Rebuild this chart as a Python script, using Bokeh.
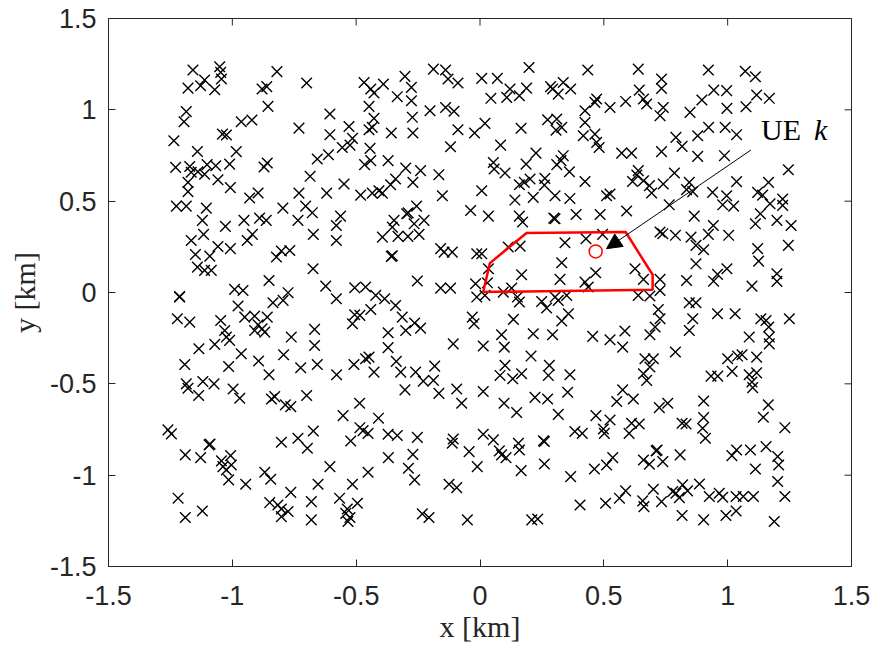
from bokeh.plotting import figure
from bokeh.models import Range1d, FixedTicker, Arrow, NormalHead
from bokeh.core.properties import value
from bokeh.embed import file_html
from bokeh.resources import INLINE

# ---- data ----
x_vals = [
 -1.159,-1.051,-1.047,-1.044,-1.112,-1.179,-1.128,-1.071,-0.820,-0.880,-0.861,-0.856,-1.186,-1.195,-0.964,-0.921,-1.040,-1.024,-1.236,-1.141,-0.984,-1.229,-1.172,-1.166,-1.139,-1.102,-1.112,-1.067,-1.011,-0.872,-0.859,-1.179,-1.058,-1.008,-1.179,-0.930,-0.896,
 -0.700,-0.468,-0.441,-0.428,-0.390,-0.303,-0.277,-0.334,-0.277,-0.188,-0.139,-0.129,-0.089,-0.606,-0.448,-0.428,-0.273,-0.202,-0.139,-0.105,-0.731,-0.606,-0.529,-0.448,-0.435,-0.358,-0.271,-0.089,-0.022,-0.515,-0.556,-0.525,-0.444,-0.119,-0.657,-0.612,-0.466,-0.441,-0.371,-0.300,-0.240,-0.166,-0.686,-0.341,-0.361,-0.271,-0.549,-0.731,-0.619,-0.482,-0.435,-0.408,-0.394,-0.152,
 0.007,0.070,0.198,0.435,0.639,0.733,0.733,0.121,0.188,0.285,0.293,0.336,0.366,0.316,0.044,0.108,0.159,0.471,0.464,0.525,0.588,0.643,0.660,0.673,0.727,0.740,0.424,0.020,0.166,0.273,0.310,0.307,0.330,0.424,0.417,0.464,0.471,0.481,0.083,0.226,0.572,0.612,0.733,0.054,0.057,0.101,0.186,0.310,0.336,0.327,0.361,0.639,0.633,0.616,0.660,0.684,0.693,0.740,0.424,0.159,0.202,0.179,0.262,0.260,0.303,0.363,0.215,0.141,0.007,0.511,0.525,
 0.922,1.071,1.112,0.944,0.996,0.896,1.117,1.168,1.074,0.848,0.997,0.923,0.990,1.036,0.879,0.791,0.816,0.879,0.987,1.245,0.785,1.036,1.165,0.845,0.834,0.859,0.939,0.996,1.121,1.141,1.222,
 -1.226,-1.186,-1.105,-1.121,-1.028,-0.953,-0.890,-0.863,-0.796,-1.116,-1.166,-0.940,-0.919,-1.058,-1.008,-1.149,-1.091,-0.822,-0.802,-0.768,-1.141,-1.112,-1.085,-0.852,-1.213,-1.213,-0.991,-0.957,-0.836,-0.795,-0.775,-0.977,-1.222,-1.172,-1.047,-0.950,-0.910,-0.859,-0.896,-0.880,-0.910,-0.869,-1.031,-1.024,-1.011,-1.071,-1.135,-0.964,-0.894,-0.793,-0.762,-1.192,-1.015,-0.852,-1.186,-1.119,-1.074,
 -0.704,-0.677,-0.735,-0.563,-0.580,-0.673,-0.580,-0.296,-0.290,-0.256,-0.347,-0.354,-0.266,-0.226,-0.394,-0.331,-0.291,-0.246,-0.038,-0.159,-0.145,-0.112,-0.358,-0.354,-0.013,-0.674,-0.623,-0.580,-0.506,-0.462,-0.421,-0.385,-0.253,-0.159,-0.119,-0.018,-0.013,-0.441,-0.341,-0.506,-0.485,-0.515,-0.314,-0.264,-0.240,-0.300,-0.371,-0.031,-0.024,-0.668,-0.668,-0.371,-0.108,-0.724,-0.657,-0.579,-0.509,-0.462,-0.448,-0.428,-0.338,-0.320,-0.260,-0.183,-0.188,-0.229,
 0.034,0.159,0.172,0.303,0.298,0.388,0.485,0.592,0.727,0.738,0.343,0.428,0.495,0.114,0.162,0.007,0.330,0.626,0.168,0.323,0.467,0.424,0.437,0.660,0.727,0.034,0.030,0.128,0.094,0.020,0.151,0.159,0.249,0.269,0.303,0.316,0.350,0.639,0.686,0.727,0.720,0.357,0.330,0.135,0.087,0.215,0.293,0.455,0.525,0.585,0.576,0.013,0.098,0.686,0.707,0.727,0.206,0.101,0.081,0.132,0.168,0.280,0.276,0.363,0.666,0.700,0.660,0.686,0.673,
 0.764,0.980,1.024,1.171,1.222,0.865,1.132,1.112,1.199,1.256,0.942,0.922,1.004,0.789,0.852,0.872,0.903,1.121,1.125,1.245,0.872,0.997,0.959,0.943,0.834,1.098,1.199,1.199,0.845,0.872,0.859,0.845,0.959,1.030,1.134,1.155,1.166,1.249,1.168,1.168,1.087,0.789,1.000,1.040,1.058,1.117,1.018,0.933,0.960,1.087,1.117,1.098,
 -1.179,-1.136,-0.997,-0.970,-0.842,-0.829,-0.786,-0.764,-1.260,-1.246,-1.094,-1.090,-1.190,-1.128,-1.044,-1.007,-1.038,-1.024,-1.004,-1.015,-0.946,-0.802,-0.869,-0.845,-0.764,-1.219,-1.121,-1.190,-0.849,-0.816,-0.802,-0.775,-0.802,
 -0.700,-0.486,-0.553,-0.410,-0.485,-0.472,-0.452,-0.522,-0.371,-0.334,-0.253,-0.303,-0.166,-0.094,-0.074,-0.735,-0.697,-0.673,-0.108,-0.112,-0.044,-0.271,-0.370,-0.606,-0.452,-0.289,-0.264,-0.011,-0.654,-0.515,-0.125,-0.094,-0.681,-0.567,-0.495,-0.536,-0.542,-0.525,-0.533,-0.681,-0.233,-0.206,-0.051,
 0.013,0.097,0.148,0.222,0.273,0.354,0.316,0.576,0.552,0.619,0.724,0.468,0.525,0.612,0.643,0.602,0.498,0.502,0.383,0.413,0.013,0.054,0.078,0.087,0.105,0.155,0.159,0.260,0.256,0.260,0.166,0.366,0.462,0.511,0.536,0.660,0.684,0.711,0.715,0.738,0.404,0.507,0.563,0.588,0.657,0.662,0.700,0.733,0.209,0.233,
 1.101,0.758,0.903,1.164,1.144,1.231,0.816,0.832,0.903,0.899,0.910,0.808,1.017,1.036,1.092,1.155,1.202,1.206,1.112,1.202,0.818,0.886,0.791,0.838,0.805,0.926,0.966,0.980,1.034,1.063,1.104,1.231,0.816,0.903,0.993,1.034,1.188,0.778,
]
y_vals = [
 1.218,1.236,1.205,1.169,1.163,1.119,1.132,1.110,1.209,1.114,1.127,1.019,0.990,0.935,0.935,0.944,0.867,0.862,0.831,0.772,0.771,0.685,0.690,0.658,0.661,0.700,0.647,0.694,0.703,0.687,0.709,0.603,0.617,0.574,0.552,0.517,0.545,
 1.147,1.150,1.114,1.092,1.141,1.183,1.123,1.072,1.050,1.223,1.218,1.169,1.147,0.977,1.019,0.953,0.959,0.995,1.013,0.992,0.900,0.864,0.909,0.891,0.904,0.873,0.873,0.891,0.873,0.844,0.794,0.807,0.789,0.798,0.731,0.754,0.700,0.722,0.722,0.681,0.667,0.645,0.636,0.621,0.590,0.603,0.594,0.544,0.544,0.533,0.544,0.557,0.544,0.530,
 1.172,1.172,1.232,1.218,1.223,1.169,1.117,1.114,1.119,1.127,1.114,1.150,1.114,1.086,1.063,1.068,1.077,1.059,1.041,1.013,1.046,1.108,1.059,1.032,0.968,1.013,0.995,0.926,0.899,0.946,0.950,0.889,0.904,0.931,0.858,0.867,0.822,0.794,0.807,0.763,0.763,0.763,0.771,0.712,0.676,0.654,0.703,0.700,0.749,0.722,0.661,0.667,0.643,0.608,0.612,0.585,0.545,0.594,0.608,0.590,0.621,0.603,0.625,0.588,0.530,0.515,0.521,0.506,0.557,0.530,0.539,
 1.218,1.211,1.181,1.108,1.105,1.054,1.081,1.063,1.017,0.986,1.008,0.904,0.904,0.864,0.858,0.849,0.800,0.745,0.749,0.672,0.654,0.607,0.603,0.603,0.563,0.552,0.548,0.530,0.548,0.533,0.512,
 0.473,0.473,0.462,0.395,0.362,0.395,0.407,0.395,0.462,0.318,0.285,0.285,0.318,0.252,0.240,0.208,0.199,0.194,0.227,0.230,0.139,0.121,0.121,0.066,-0.025,-0.022,0.017,0.011,-0.056,-0.043,-0.001,-0.074,-0.144,-0.162,-0.153,-0.135,-0.129,-0.135,-0.177,-0.199,-0.208,-0.217,-0.208,-0.244,-0.262,-0.284,-0.308,-0.335,-0.375,-0.341,-0.244,-0.394,-0.405,-0.450,-0.500,-0.487,-0.500,
 0.473,0.437,0.395,0.418,0.367,0.318,0.285,0.431,0.436,0.473,0.395,0.358,0.376,0.395,0.303,0.307,0.307,0.318,0.449,0.240,0.221,0.221,0.198,0.201,0.212,0.130,0.035,-0.034,0.026,0.030,-0.016,-0.034,0.063,0.024,0.024,0.048,-0.025,-0.093,-0.071,-0.122,-0.125,-0.171,-0.135,-0.167,-0.195,-0.208,-0.220,-0.135,-0.171,-0.202,-0.290,-0.302,-0.281,-0.412,-0.394,-0.450,-0.394,-0.363,-0.354,-0.436,-0.377,-0.436,-0.436,-0.403,-0.481,-0.485,
 0.418,0.418,0.386,0.404,0.407,0.427,0.427,0.446,0.331,0.322,0.272,0.294,0.318,0.249,0.254,0.212,0.163,0.130,0.097,0.072,0.108,0.057,0.030,0.072,0.072,0.130,0.053,0.024,0.002,-0.016,-0.025,-0.052,-0.049,-0.085,-0.025,-0.043,-0.016,-0.016,-0.019,0.011,-0.093,-0.116,-0.156,-0.147,-0.231,-0.226,-0.231,-0.240,-0.259,-0.211,-0.299,-0.293,-0.299,-0.231,-0.189,-0.144,-0.348,-0.399,-0.454,-0.472,-0.445,-0.399,-0.454,-0.450,-0.363,-0.363,-0.445,-0.408,-0.481,
 0.480,0.480,0.473,0.486,0.477,0.418,0.431,0.376,0.395,0.367,0.367,0.318,0.313,0.313,0.303,0.258,0.234,0.240,0.172,0.258,0.157,0.130,0.099,0.062,0.066,0.035,0.103,0.061,-0.056,-0.056,-0.144,-0.208,-0.116,-0.116,-0.144,-0.153,-0.189,-0.144,-0.244,-0.281,-0.244,-0.326,-0.363,-0.348,-0.341,-0.354,-0.432,-0.458,-0.458,-0.450,-0.440,-0.490,
 -0.524,-0.564,-0.528,-0.579,-0.583,-0.570,-0.615,-0.625,-0.752,-0.774,-0.834,-0.830,-0.889,-0.904,-0.922,-0.893,-0.953,-0.971,-0.944,-1.026,-1.050,-0.820,-0.984,-1.022,-1.094,-1.126,-1.196,-1.232,-1.150,-1.163,-1.185,-1.199,-1.227,
 -0.564,-0.606,-0.674,-0.688,-0.740,-0.756,-0.771,-0.813,-0.776,-0.783,-0.793,-0.533,-0.552,-0.528,-0.606,-0.798,-0.853,-0.758,-0.802,-0.825,-0.871,-0.886,-0.904,-0.953,-0.984,-0.962,-1.026,-0.953,-1.050,-1.050,-1.050,-1.068,-1.145,-1.126,-1.154,-1.185,-1.209,-1.232,-1.254,-1.245,-1.212,-1.232,-1.245,
 -0.542,-0.606,-0.657,-0.574,-0.583,-0.546,-0.667,-0.533,-0.597,-0.583,-0.630,-0.674,-0.698,-0.716,-0.720,-0.771,-0.747,-0.771,-0.761,-0.771,-0.776,-0.807,-0.867,-0.889,-0.904,-0.825,-0.862,-0.816,-0.812,-0.939,-0.975,-1.008,-0.966,-0.944,-0.904,-0.917,-0.940,-0.867,-0.863,-0.926,-1.163,-1.154,-1.126,-1.086,-1.141,-1.172,-1.077,-1.145,-1.245,-1.240,
 -0.521,-0.606,-0.594,-0.615,-0.683,-0.740,-0.716,-0.720,-0.685,-0.743,-0.798,-0.889,-0.893,-0.862,-0.862,-0.844,-0.898,-0.944,-0.966,-1.035,-1.053,-1.048,-1.099,-1.086,-1.123,-1.117,-1.099,-1.121,-1.117,-1.117,-1.117,-1.117,-1.221,-1.245,-1.221,-1.196,-1.254,-1.090,
]

# serving region of UE k (polygon), UE k position, annotation
poly_x = [0.013, 0.040, 0.188, 0.588, 0.697, 0.697, 0.013]
poly_y = [0.003, 0.161, 0.326, 0.331, 0.097, 0.015, 0.003]
ue_x = [0.467]
ue_y = [0.225]
arrow_start = (1.094, 0.780)
arrow_end = (0.511, 0.240)
label_pos = (1.135, 0.895)

tick_vals = [-1.5, -1.0, -0.5, 0.0, 0.5, 1.0, 1.5]
tick_text = ["-1.5", "-1", "-0.5", "0", "0.5", "1", "1.5"]

n = min(len(x_vals), len(y_vals))
x_vals = x_vals[:n]
y_vals = y_vals[:n]

p = figure(width=875, height=657, output_backend="svg", toolbar_location=None,
           x_range=Range1d(-1.5, 1.5), y_range=Range1d(-1.5, 1.5),
           min_border_left=108, min_border_right=24, min_border_top=18, min_border_bottom=91)
p.grid.visible = False
p.outline_line_color = "#262626"
p.outline_line_width = 1
p.background_fill_color = "white"
p.border_fill_color = "white"

ticker = FixedTicker(ticks=tick_vals)
overrides = {v: t for v, t in zip(tick_vals, tick_text)}

for ax in (p.xaxis[0], p.yaxis[0]):
    ax.ticker = ticker
    ax.axis_line_color = "#262626"
    ax.major_tick_line_color = "#262626"
    ax.major_tick_in = 7
    ax.major_tick_out = 0
    ax.minor_tick_line_color = None
    ax.major_label_overrides = overrides
    ax.major_label_text_font = "Liberation Sans"
    ax.major_label_text_font_size = "27px"
    ax.major_label_text_color = "#262626"
    ax.axis_label_text_font = "Liberation Serif"
    ax.axis_label_text_font_style = "normal"
    ax.axis_label_text_font_size = "30px"
    ax.axis_label_text_color = "#262626"

p.xaxis[0].axis_label = "x [km]"
p.yaxis[0].axis_label = "y [km]"
p.xaxis[0].major_label_standoff = 19
p.yaxis[0].major_label_standoff = 12
p.xaxis[0].axis_label_standoff = 2
p.yaxis[0].axis_label_standoff = 6

# ticks on the top and right edges of the box (as in the reference)
p.ray(x=tick_vals, y=[1.5] * len(tick_vals), angle=-1.5707963, length=7,
      length_units="screen", line_color="#262626", line_width=1)
p.ray(x=[1.5] * len(tick_vals), y=tick_vals, angle=3.1415927, length=7,
      length_units="screen", line_color="#262626", line_width=1)

p.scatter(x_vals, y_vals, marker="x", size=15, line_color="black", line_width=1.4)

p.line(poly_x, poly_y, line_color="red", line_width=2.5)
p.scatter(ue_x, ue_y, marker="circle", size=13, fill_color=None, line_color="red", line_width=1.5)

p.add_layout(Arrow(end=NormalHead(size=15, fill_color="black", line_color="black"),
                   x_start=arrow_start[0], y_start=arrow_start[1],
                   x_end=arrow_end[0], y_end=arrow_end[1],
                   line_color="black", line_width=1))

p.text([label_pos[0]], [label_pos[1]], text=["UE"], text_font=value("Liberation Serif"),
       text_font_size="30px", text_color="black", text_baseline="alphabetic", text_align="left")
p.text([label_pos[0]], [label_pos[1]], text=["k"], x_offset=53, text_font=value("Liberation Serif"),
       text_font_style="italic", text_font_size="30px", text_color="black",
       text_baseline="alphabetic", text_align="left")

open("out.html", "w").write(file_html(p, INLINE))
